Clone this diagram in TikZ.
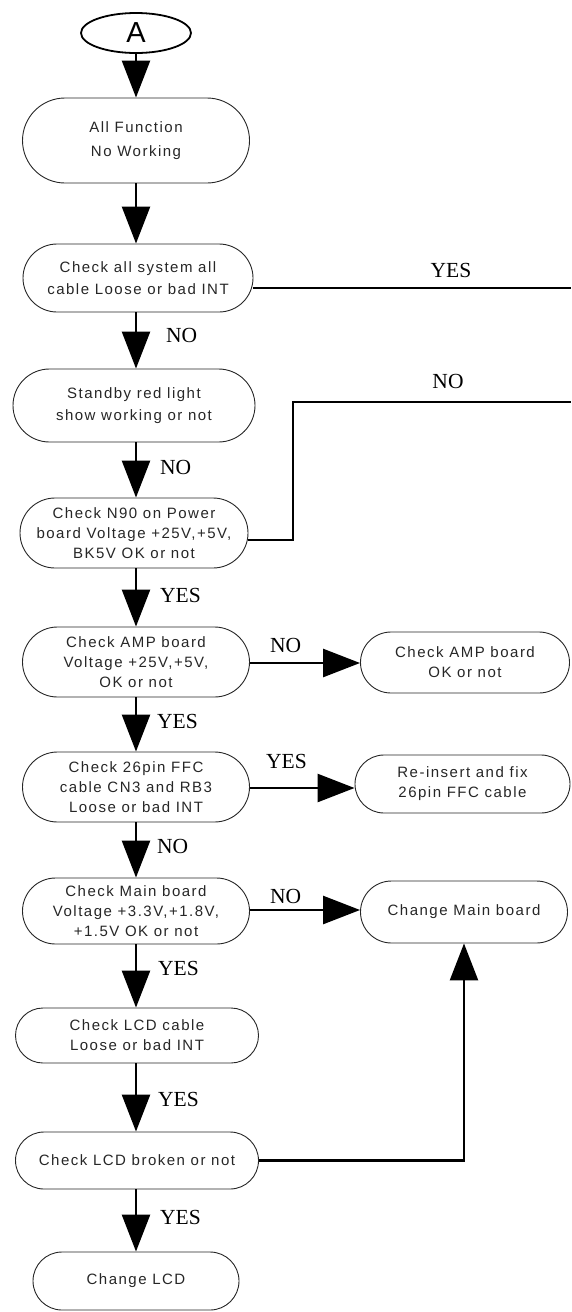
\documentclass[tikz,border=0pt]{standalone}
\usepackage{fontspec}
\setmainfont{Liberation Serif}
\newfontfamily\boxfont[LetterSpace=10]{Liberation Sans}
\newfontfamily\plainsans{Liberation Sans}
\usetikzlibrary{arrows.meta,shapes.geometric}
\begin{document}
\begin{tikzpicture}[x=1pt,y=-1pt,
  pill/.style={draw=black!85, line width=0.9pt, rounded corners=#1, align=center,
    inner sep=0pt, text=black!85, font=\boxfont\fontsize{15}{20}\selectfont},
  flow/.style={line width=2.6pt},
  arr/.style={flow, -{Triangle[length=37pt,width=28pt]}},
  lbl/.style={font=\fontsize{21.5}{24}\selectfont, inner sep=0pt, anchor=base west},
]
\useasboundingbox (0,0) rectangle (571,1312);

% start connector
\node[draw, ellipse, line width=1.8pt, minimum width=110pt, minimum height=40pt,
      inner sep=0pt, font=\plainsans\fontsize{29}{30}\selectfont] (A) at (136,33) {A};

% main column
\node[pill=42.5pt, minimum width=227pt, minimum height=85pt,
      font=\boxfont\fontsize{15}{24}\selectfont] (f1) at (136,140.5) {All Function\\No Working};
\node[pill=34pt, minimum width=230pt, minimum height=68pt,
      font=\boxfont\fontsize{15}{22}\selectfont] (chk) at (138,278) {Check all system all\\cable Loose or bad INT};
\node[pill=36.5pt, minimum width=242pt, minimum height=73pt,
      font=\boxfont\fontsize{15}{22}\selectfont] (sby) at (134,405.5) {Standby red light\\show working or not};
\node[pill=35pt, minimum width=228pt, minimum height=70pt] (n90) at (134,533)
      {Check N90 on Power\\board Voltage +25V,+5V,\\BK5V OK or not};
\node[pill=35pt, minimum width=227pt, minimum height=70pt] (amp) at (136,662)
      {Check AMP board\\Voltage +25V,+5V,\\OK or not};
\node[pill=35pt, minimum width=227pt, minimum height=70pt] (ffc) at (136,787)
      {Check 26pin FFC\\cable CN3 and RB3\\Loose or bad INT};
\node[pill=33pt, minimum width=227pt, minimum height=66pt] (mainb) at (136,911)
      {Check Main board\\Voltage +3.3V,+1.8V,\\+1.5V OK or not};
\node[pill=27.5pt, minimum width=243pt, minimum height=55pt] (lcdc) at (137,1035.5)
      {Check LCD cable\\Loose or bad INT};
\node[pill=28.5pt, minimum width=243pt, minimum height=57pt] (lcdb) at (137,1160.5)
      {Check LCD broken or not};
\node[pill=29pt, minimum width=206pt, minimum height=58pt] (clcd) at (136,1281)
      {Change LCD};

% right column
\node[pill=30.5pt, minimum width=209pt, minimum height=61pt] (ampok) at (465,662.5)
      {Check AMP board\\OK or not};
\node[pill=29pt, minimum width=215pt, minimum height=58pt] (reins) at (462.5,784)
      {Re-insert and fix\\26pin FFC cable};
\node[pill=31pt, minimum width=207pt, minimum height=62pt] (chmain) at (464,912)
      {Change Main board};

% free ends of the outgoing branches
\coordinate (yesEnd) at (571,288);
\coordinate (noTurn) at (293,402);
\coordinate (noEnd) at (571,402);

% vertical flow
\draw[arr] (A) -- (A |- f1.north);
\draw[arr] (f1) -- (f1 |- chk.north);
\draw[arr] (f1 |- chk.south) -- (f1 |- sby.north);
\draw[arr] (f1 |- sby.south) -- (f1 |- n90.north);
\draw[arr] (f1 |- n90.south) -- (f1 |- amp.north);
\draw[arr] (amp) -- (ffc);
\draw[arr] (ffc) -- (mainb);
\draw[arr] (mainb) -- (mainb |- lcdc.north);
\draw[arr] (mainb |- lcdc.south) -- (mainb |- lcdb.north);
\draw[arr] (mainb |- lcdb.south) -- (clcd);

% side branches
\draw[flow] ([yshift=-10pt]chk.east) -- (yesEnd);
\draw[flow] ([yshift=-7pt]n90.east) -| (noTurn) -- (noEnd);
\draw[arr] ([yshift=-1pt]amp.east) -- ([yshift=-1pt]amp.east -| ampok.west);
\draw[arr] ([yshift=-1pt]ffc.east) -- ([yshift=-1pt]ffc.east -| reins.west);
\draw[arr] ([yshift=1pt]mainb.east) -- ([yshift=1pt]mainb.east -| chmain.west);
\draw[arr] (lcdb.east) -| (chmain.south);

% branch labels
\node[lbl, anchor=base] (yes1) at (451,277) {YES};
\node[lbl] (no1) at (166,342) {NO};
\node[lbl, anchor=base] (no2) at (448,388) {NO};
\node[lbl] (no3) at (160,474) {NO};
\node[lbl] (yes2) at (160,602) {YES};
\node[lbl] (no4) at (270,652) {NO};
\node[lbl] (yes3) at (157,728) {YES};
\node[lbl] (yes4) at (266,768) {YES};
\node[lbl] (no5) at (157,853) {NO};
\node[lbl] (no6) at (270,903) {NO};
\node[lbl] (yes5) at (158,975) {YES};
\node[lbl] (yes6) at (158,1106) {YES};
\node[lbl] (yes7) at (160,1224) {YES};
\end{tikzpicture}
\end{document}
